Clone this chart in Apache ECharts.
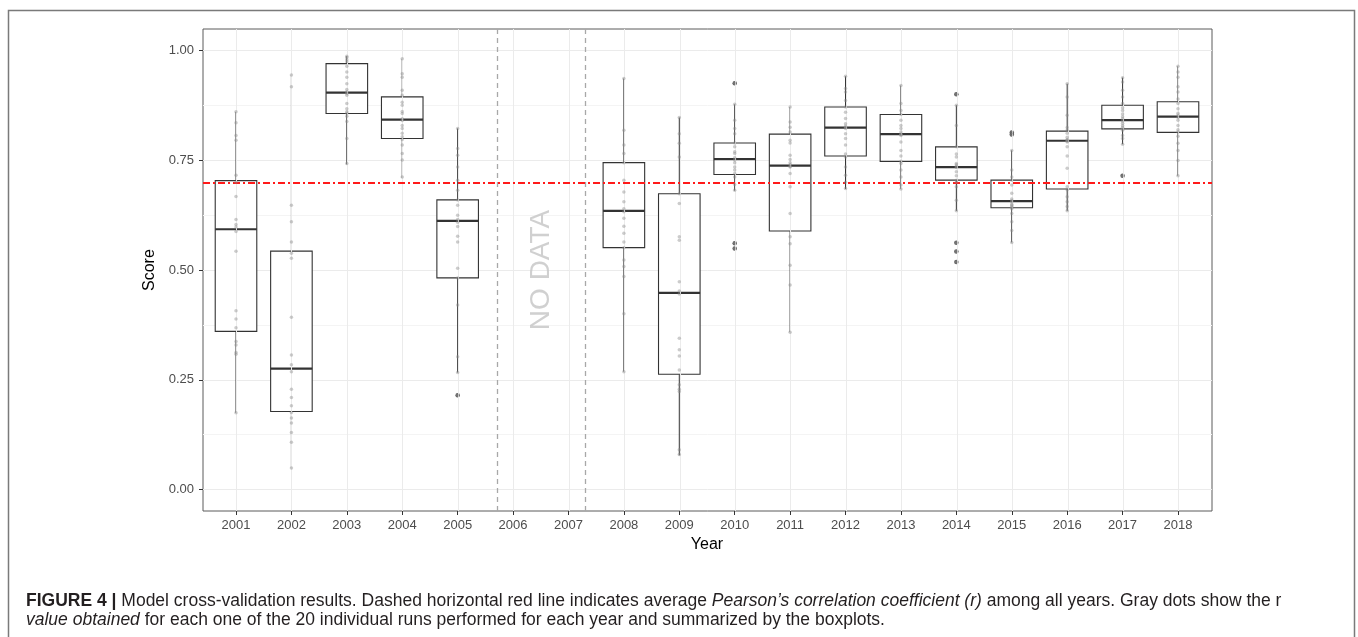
<!DOCTYPE html>
<html>
<head>
<meta charset="utf-8">
<script src="https://cdn.jsdelivr.net/npm/echarts@6/dist/echarts.min.js"></script>
<style>
html,body{margin:0;padding:0;background:#fff;}
#chart{width:1358px;height:637px;}
</style>
</head>
<body>
<div id="chart"></div>
<script>
// ---------------- data ----------------
const years = ['2001','2002','2003','2004','2005','2006','2007','2008','2009','2010','2011','2012','2013','2014','2015','2016','2017','2018'];
const whiskerLow  = [0.174, 0.048, 0.741, 0.710, 0.266, null, null, 0.268, 0.077, 0.681, 0.358, 0.685, 0.685, 0.635, 0.563, 0.635, 0.787, 0.715];
const q1          = [0.360, 0.177, 0.857, 0.800, 0.482, null, null, 0.551, 0.262, 0.718, 0.589, 0.760, 0.748, 0.705, 0.642, 0.685, 0.822, 0.814];
const medians     = [0.593, 0.275, 0.905, 0.843, 0.612, null, null, 0.635, 0.448, 0.753, 0.738, 0.825, 0.810, 0.735, 0.657, 0.795, 0.842, 0.850];
const q3          = [0.704, 0.543, 0.971, 0.895, 0.660, null, null, 0.745, 0.674, 0.790, 0.810, 0.872, 0.855, 0.781, 0.705, 0.817, 0.876, 0.884];
const whiskerHigh = [0.861, 0.945, 0.988, 0.982, 0.823, null, null, 0.937, 0.848, 0.878, 0.872, 0.942, 0.921, 0.876, 0.773, 0.925, 0.939, 0.965];

const outlierYears  = ['2005','2010','2010','2010','2014','2014','2014','2014','2015','2015','2017'];
const outlierValues = [0.214, 0.926, 0.561, 0.549, 0.901, 0.562, 0.542, 0.518, 0.814, 0.809, 0.715];

const runs2001 = [0.861,0.836,0.807,0.796,0.716,0.700,0.668,0.615,0.604,0.598,0.588,0.543,0.407,0.388,0.368,0.337,0.329,0.312,0.308,0.174];
const runs2002 = [0.945,0.918,0.648,0.610,0.564,0.538,0.527,0.392,0.306,0.284,0.268,0.228,0.209,0.190,0.175,0.162,0.151,0.129,0.107,0.048];
const runs2003 = [0.988,0.985,0.980,0.975,0.965,0.952,0.940,0.925,0.912,0.906,0.903,0.899,0.880,0.868,0.861,0.858,0.851,0.839,0.800,0.743];
const runs2004 = [0.982,0.948,0.940,0.910,0.899,0.883,0.876,0.862,0.857,0.845,0.841,0.830,0.823,0.812,0.804,0.798,0.785,0.766,0.751,0.712];
const runs2005 = [0.823,0.777,0.762,0.735,0.705,0.682,0.660,0.648,0.625,0.615,0.609,0.599,0.577,0.564,0.504,0.482,0.420,0.302,0.266,0.214];
const runs2008 = [0.937,0.819,0.785,0.766,0.745,0.705,0.678,0.656,0.640,0.633,0.618,0.600,0.584,0.564,0.551,0.523,0.508,0.485,0.400,0.268];
const runs2009 = [0.848,0.811,0.789,0.758,0.674,0.652,0.576,0.568,0.473,0.452,0.445,0.344,0.318,0.304,0.272,0.238,0.228,0.223,0.090,0.079];
const runs2010 = [0.926,0.878,0.842,0.823,0.811,0.790,0.781,0.770,0.766,0.756,0.751,0.745,0.735,0.728,0.720,0.712,0.695,0.682,0.561,0.549];
const runs2011 = [0.872,0.838,0.826,0.815,0.796,0.790,0.762,0.752,0.745,0.740,0.736,0.735,0.720,0.690,0.629,0.576,0.560,0.511,0.466,0.358];
const runs2012 = [0.942,0.914,0.906,0.887,0.872,0.860,0.846,0.834,0.828,0.825,0.823,0.811,0.800,0.785,0.765,0.758,0.735,0.716,0.700,0.686];
const runs2013 = [0.921,0.880,0.864,0.855,0.842,0.830,0.823,0.815,0.810,0.809,0.807,0.792,0.773,0.760,0.748,0.743,0.728,0.712,0.694,0.685];
const runs2014 = [0.901,0.876,0.830,0.781,0.765,0.758,0.743,0.740,0.736,0.734,0.724,0.715,0.705,0.700,0.690,0.659,0.635,0.562,0.542,0.518];
const runs2015 = [0.814,0.809,0.773,0.728,0.712,0.705,0.694,0.675,0.662,0.658,0.656,0.650,0.648,0.645,0.642,0.640,0.629,0.610,0.590,0.563];
const runs2016 = [0.925,0.895,0.853,0.825,0.819,0.812,0.803,0.798,0.796,0.794,0.792,0.781,0.760,0.732,0.690,0.683,0.667,0.656,0.645,0.635];
const runs2017 = [0.939,0.929,0.910,0.895,0.880,0.870,0.864,0.856,0.850,0.845,0.840,0.835,0.830,0.826,0.822,0.819,0.807,0.800,0.787,0.715];
const runs2018 = [0.965,0.952,0.940,0.918,0.906,0.890,0.880,0.868,0.858,0.853,0.848,0.842,0.830,0.820,0.815,0.805,0.789,0.773,0.750,0.715];

const runsByYear = {
  '2001': runs2001, '2002': runs2002, '2003': runs2003, '2004': runs2004, '2005': runs2005,
  '2008': runs2008, '2009': runs2009, '2010': runs2010, '2011': runs2011, '2012': runs2012,
  '2013': runs2013, '2014': runs2014, '2015': runs2015, '2016': runs2016, '2017': runs2017, '2018': runs2018
};

const meanScore = 0.704;
const noDataBounds = ['2005.7', '2007.3'];
const noDataLabel = 'NO DATA';
const yTickValues = [0, 0.25, 0.5, 0.75, 1];

// ---------------- build ----------------
const firstYear = Number(years[0]);
const boxData = [];
years.forEach((y, i) => {
  if (medians[i] != null) boxData.push([i, whiskerLow[i], q1[i], medians[i], q3[i], whiskerHigh[i]]);
});
const runPoints = [];
years.forEach((y, i) => {
  (runsByYear[y] || []).forEach(v => runPoints.push([i, v]));
});
const outlierPoints = outlierYears.map((y, k) => [years.indexOf(y), outlierValues[k]]);

const LINE = '#333333';
function renderBox(params, api) {
  const x = api.value(0);
  const lo = api.coord([x, api.value(1)]);
  const b = api.coord([x, api.value(2)]);
  const m = api.coord([x, api.value(3)]);
  const t = api.coord([x, api.value(4)]);
  const hi = api.coord([x, api.value(5)]);
  const w = api.size([1, 0])[0] * 0.75;
  const cx = lo[0];
  return {
    type: 'group',
    children: [
      { type: 'line', shape: { x1: cx, y1: lo[1], x2: cx, y2: b[1] }, style: { stroke: LINE, lineWidth: 1 } },
      { type: 'line', shape: { x1: cx, y1: t[1], x2: cx, y2: hi[1] }, style: { stroke: LINE, lineWidth: 1 } },
      { type: 'rect', shape: { x: cx - w / 2, y: t[1], width: w, height: b[1] - t[1] }, style: { fill: '#ffffff', stroke: LINE, lineWidth: 1.1 } },
      { type: 'line', shape: { x1: cx - w / 2, y1: m[1], x2: cx + w / 2, y2: m[1] }, style: { stroke: LINE, lineWidth: 2.2 } }
    ]
  };
}

const chart = echarts.init(document.getElementById('chart'), null, { renderer: 'canvas' });
const FONT = '"Liberation Sans", Arial, Helvetica, sans-serif';
const CAP = 17.5;

const option = {
  animation: false,
  backgroundColor: '#ffffff',
  textStyle: { fontFamily: FONT },
  grid: [
    { left: 203, right: 146, top: 29, bottom: 126, show: true, borderColor: '#5a5a5a', borderWidth: 1, backgroundColor: 'transparent', containLabel: false },
    { left: 203, right: 146, top: 50.7, bottom: 147.5, containLabel: false },
    { left: 208.3, right: 152.3, top: 29, bottom: 126, containLabel: false }
  ],
  xAxis: [
    { gridIndex: 0, type: 'value', min: -0.6, max: 17.6, show: false },
    { gridIndex: 1, type: 'value', min: 0, max: 1, show: false },
    {
      gridIndex: 2, type: 'category', data: years, boundaryGap: true, position: 'bottom',
      axisLine: { show: false, onZero: false },
      axisTick: { show: true, alignWithLabel: true, interval: 0, length: 4, lineStyle: { color: LINE } },
      axisLabel: { color: '#4d4d4d', fontSize: 13, margin: 8, interval: 0, fontFamily: FONT },
      splitLine: { show: false },
      name: 'Year', nameLocation: 'middle', nameGap: 25,
      nameTextStyle: { color: '#000', fontSize: 16, fontFamily: FONT }
    }
  ],
  yAxis: [
    { gridIndex: 0, type: 'value', min: -0.05, max: 1.05, show: false },
    {
      gridIndex: 1, type: 'value', min: yTickValues[0], max: yTickValues[yTickValues.length - 1], interval: 0.25,
      axisLine: { show: false, onZero: false },
      axisTick: { show: true, length: 4, lineStyle: { color: LINE } },
      axisLabel: { color: '#4d4d4d', fontSize: 13, margin: 9, fontFamily: FONT, formatter: v => v.toFixed(2) },
      splitLine: { show: true, lineStyle: { color: '#ebebeb', width: 1 } },
      minorTick: { show: false, splitNumber: 2 },
      minorSplitLine: { show: true, lineStyle: { color: '#f4f4f4', width: 1 } },
      name: 'Score', nameLocation: 'middle', nameGap: 33,
      nameTextStyle: { color: '#000', fontSize: 16, fontFamily: FONT }
    },
    { gridIndex: 2, type: 'value', min: -0.05, max: 1.05, show: false }
  ],
  series: [
    {
      type: 'line', xAxisIndex: 0, yAxisIndex: 0, data: [], z: 1, silent: true,
      markLine: {
        silent: true, symbol: ['none', 'none'], animation: false,
        label: { show: false },
        data: years.map((y, i) => ({ xAxis: i, lineStyle: { color: '#ebebeb', width: 1, type: 'solid' } }))
          .concat(noDataBounds.map(b => ({ xAxis: Number(b) - firstYear, lineStyle: { color: '#a8a8a8', width: 1.3, type: [5, 4] } })))
      }
    },
    {
      type: 'scatter', xAxisIndex: 0, yAxisIndex: 0, z: 2, silent: true,
      symbolSize: 0,
      data: [[(Number(noDataBounds[0]) + Number(noDataBounds[1])) / 2 - firstYear, 0.5]],
      label: { show: true, formatter: noDataLabel, rotate: 90, position: 'inside', color: '#c4c4c4', fontSize: 28, fontFamily: FONT }
    },
    {
      type: 'custom', xAxisIndex: 2, yAxisIndex: 2, z: 3, silent: true,
      renderItem: renderBox,
      encode: { x: 0, y: [1, 2, 3, 4, 5] },
      data: boxData
    },
    {
      type: 'scatter', xAxisIndex: 2, yAxisIndex: 2, z: 4, silent: true,
      symbol: 'circle', symbolSize: 4.5,
      itemStyle: { color: '#3a3a3a' },
      data: outlierPoints
    },
    {
      type: 'scatter', xAxisIndex: 2, yAxisIndex: 2, z: 5, silent: true,
      symbol: 'circle', symbolSize: 3.5,
      itemStyle: { color: 'rgba(140,140,140,0.55)' },
      data: runPoints
    },
    {
      type: 'line', xAxisIndex: 0, yAxisIndex: 0, data: [], z: 6, silent: true,
      markLine: {
        silent: true, symbol: ['none', 'none'], animation: false,
        label: { show: false },
        lineStyle: { color: '#ff1a1a', width: 2, type: [7, 3, 2, 3] },
        data: [{ yAxis: meanScore }]
      }
    }
  ],
  graphic: [
    {
      type: 'rect', silent: true, z: 0,
      shape: { x: 8.5, y: 10.5, width: 1346, height: 700 },
      style: { fill: 'none', stroke: '#7a7a7a', lineWidth: 1.5 }
    },
    {
      type: 'text', left: 26, top: 592, silent: true,
      style: {
        text: '{b|FIGURE 4 |} Model cross-validation results. Dashed horizontal red line indicates average {i|Pearson\u2019s correlation coefficient (r)} among all years. Gray dots show the r',
        font: CAP + 'px ' + FONT, fill: '#231f20',
        rich: {
          b: { fontWeight: 'bold', fontSize: CAP, fontFamily: FONT, fill: '#231f20' },
          i: { fontStyle: 'italic', fontSize: CAP, fontFamily: FONT, fill: '#231f20' }
        }
      }
    },
    {
      type: 'text', left: 26, top: 611, silent: true,
      style: {
        text: '{i|value obtained} for each one of the 20 individual runs performed for each year and summarized by the boxplots.',
        font: CAP + 'px ' + FONT, fill: '#231f20',
        rich: {
          i: { fontStyle: 'italic', fontSize: CAP, fontFamily: FONT, fill: '#231f20' }
        }
      }
    }
  ]
};
chart.setOption(option);
</script>
</body>
</html>
